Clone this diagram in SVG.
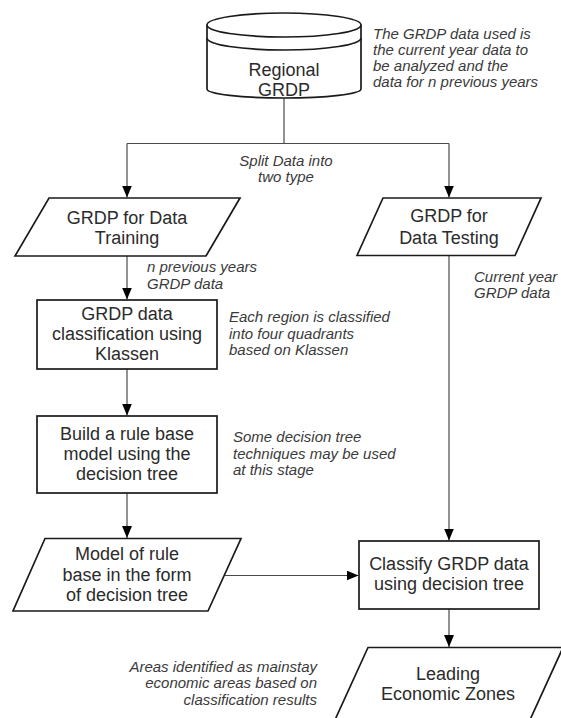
<svg xmlns="http://www.w3.org/2000/svg" width="561" height="718" viewBox="0 0 561 718">
<style>
.shape{fill:#ffffff;stroke:#1a1a1a;stroke-width:1.7;stroke-linejoin:miter}
.line{fill:none;stroke:#4a4a4a;stroke-width:1.2}
.t{font-family:"Liberation Sans",Arial,sans-serif;font-size:18px;fill:#2b2b2b;text-anchor:middle}
.a{font-family:"Liberation Sans",Arial,sans-serif;font-size:15px;font-style:italic;fill:#3a3a3a}
</style>
<defs>
<marker id="arr" viewBox="0 0 12 10" refX="12" refY="5" markerWidth="12" markerHeight="10" markerUnits="userSpaceOnUse" orient="auto">
<path d="M0,0 L12,5 L0,10 Z" fill="#000"/>
</marker>
</defs>
<rect width="561" height="718" fill="#ffffff"/>
<g id="connectors">
<path class="line" d="M284,98 V143.5"/>
<path class="line" d="M127,143.5 H449"/>
<path class="line" d="M127,143.5 V197.5" marker-end="url(#arr)"/>
<path class="line" d="M449,143.5 V197.5" marker-end="url(#arr)"/>
<path class="line" d="M127,256 V299.5" marker-end="url(#arr)"/>
<path class="line" d="M127,369 V415.5" marker-end="url(#arr)"/>
<path class="line" d="M127,493 V538" marker-end="url(#arr)"/>
<path class="line" d="M224,575.5 H358.5" marker-end="url(#arr)"/>
<path class="line" d="M449,255 V540.5" marker-end="url(#arr)"/>
<path class="line" d="M449,609 V647" marker-end="url(#arr)"/>
</g>
<g id="regional-grdp">
<path class="shape" d="M207,25 A77,12 0 0 1 361,25 V89 A77,9 0 0 1 207,89 Z"/>
<path class="shape" fill="none" d="M207,25 A77,12 0 0 0 361,25"/>
<path class="shape" fill="none" d="M207,38 A77,12 0 0 0 361,38"/>
<text class="t" x="284" y="76">Regional</text>
<text class="t" x="284" y="96">GRDP</text>
</g>
<g id="note-regional">
<text class="a" x="373" y="38.5">The GRDP data used is</text>
<text class="a" x="373" y="54.5">the current year data to</text>
<text class="a" x="373" y="70.5">be analyzed and the</text>
<text class="a" x="373" y="86.5">data for n previous years</text>
</g>
<g id="note-split">
<text class="a" x="286" y="166" text-anchor="middle">Split Data into</text>
<text class="a" x="286" y="182" text-anchor="middle">two type</text>
</g>
<g id="grdp-training">
<polygon class="shape" points="49,198 240,198 206,256 15,256"/>
<text class="t" x="127" y="223.5">GRDP for Data</text>
<text class="t" x="127" y="243.5">Training</text>
</g>
<g id="grdp-testing">
<polygon class="shape" points="383,198 541,198 515,255.5 357,255.5"/>
<text class="t" x="449" y="222">GRDP for</text>
<text class="t" x="449" y="243.5">Data Testing</text>
</g>
<g id="note-previous">
<text class="a" x="147" y="272">n previous years</text>
<text class="a" x="147" y="288.5">GRDP data</text>
</g>
<g id="note-current">
<text class="a" x="474" y="282">Current year</text>
<text class="a" x="474" y="298">GRDP data</text>
</g>
<g id="classification">
<rect class="shape" x="37" y="300" width="180" height="69"/>
<text class="t" x="127" y="319.5">GRDP data</text>
<text class="t" x="127" y="339.5">classification using</text>
<text class="t" x="127" y="359.5">Klassen</text>
</g>
<g id="note-klassen">
<text class="a" x="229" y="322">Each region is classified</text>
<text class="a" x="229" y="338.5">into four quadrants</text>
<text class="a" x="229" y="355">based on Klassen</text>
</g>
<g id="build-rule">
<rect class="shape" x="37" y="416" width="180" height="77"/>
<text class="t" x="127" y="440">Build a rule base</text>
<text class="t" x="127" y="460">model using the</text>
<text class="t" x="127" y="480">decision tree</text>
</g>
<g id="note-techniques">
<text class="a" x="233" y="442">Some decision tree</text>
<text class="a" x="233" y="458.5">techniques may be used</text>
<text class="a" x="233" y="475">at this stage</text>
</g>
<g id="model-rule">
<polygon class="shape" points="45,538.5 241,538.5 208,611 13,611"/>
<text class="t" x="127" y="560">Model of rule</text>
<text class="t" x="127" y="580.5">base in the form</text>
<text class="t" x="127" y="601">of decision tree</text>
</g>
<g id="classify">
<rect class="shape" x="359" y="541" width="180" height="68"/>
<text class="t" x="449" y="569.5">Classify GRDP data</text>
<text class="t" x="449" y="589.5">using decision tree</text>
</g>
<g id="leading-zones">
<polygon class="shape" points="368,647.5 563,647.5 529,722 334,722"/>
<text class="t" x="448" y="679.5">Leading</text>
<text class="t" x="448" y="699.5">Economic Zones</text>
</g>
<g id="note-areas">
<text class="a" x="317" y="671.5" text-anchor="end">Areas identified as mainstay</text>
<text class="a" x="317" y="688" text-anchor="end">economic areas based on</text>
<text class="a" x="317" y="704.5" text-anchor="end">classification results</text>
</g>
</svg>
